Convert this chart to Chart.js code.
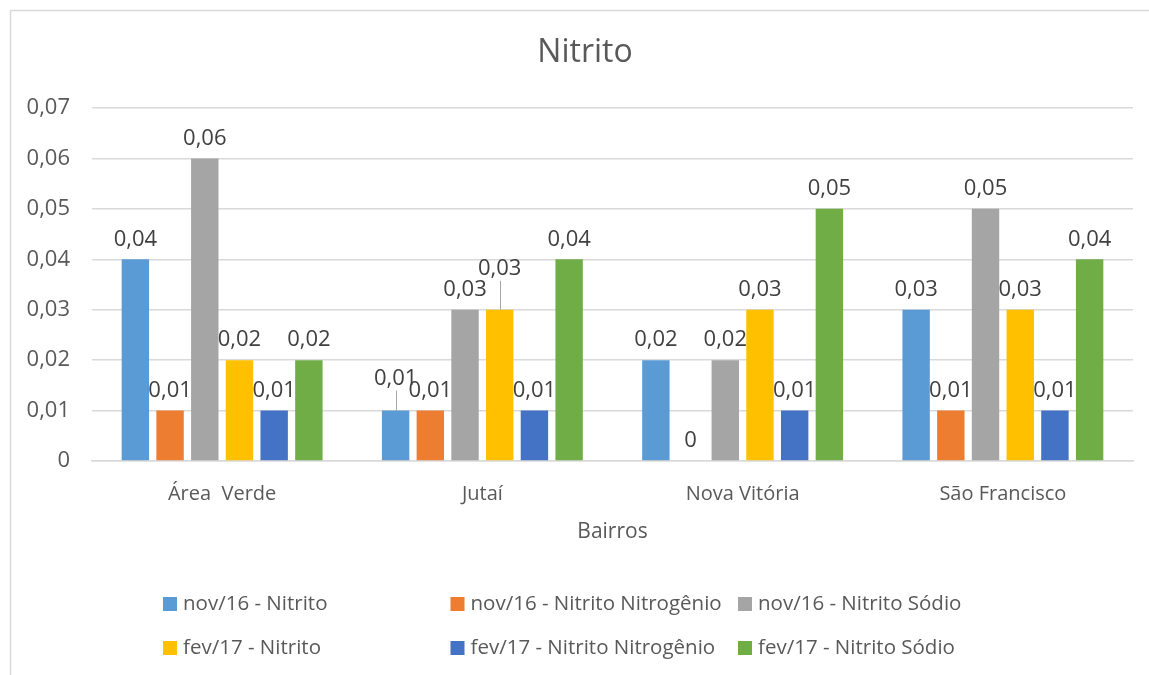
<!DOCTYPE html>
<html>
<head>
<meta charset="utf-8">
<title>Nitrito</title>
<script src="https://cdn.jsdelivr.net/npm/chart.js@4.4.1/dist/chart.umd.min.js"></script>
<style>
    html, body { margin: 0; padding: 0; background: #fff; }
    #wrap { width: 1149px; height: 675px; }
</style>
</head>
<body>
<div id="wrap"><canvas id="nitritoChart"></canvas></div>
<script>
// Chart data
const bairros = ['Área  Verde', 'Jutaí', 'Nova Vitória', 'São Francisco'];
const yTicks = [0, 0.01, 0.02, 0.03, 0.04, 0.05, 0.06, 0.07];

const nov16Nitrito = [0.04, 0.01, 0.02, 0.03];
const nov16NitritoNitrogenio = [0.01, 0.01, 0, 0.01];
const nov16NitritoSodio = [0.06, 0.03, 0.02, 0.05];
const fev17Nitrito = [0.02, 0.03, 0.03, 0.03];
const fev17NitritoNitrogenio = [0.01, 0.01, 0.01, 0.01];
const fev17NitritoSodio = [0.02, 0.04, 0.05, 0.04];

const FONT = '"Open Sans", "DejaVu Sans", sans-serif';

// Format numbers with decimal comma like the original
function fmt(v) {
    return v === 0 ? '0' : v.toFixed(2).replace('.', ',');
}

// A couple of labels in the original were dragged up with a leader line
const labelNudges = { '0-1': -12, '3-1': -21 };

const dataLabels = {
    id: 'dataLabels',
    afterDatasetsDraw(chart) {
        const ctx = chart.ctx;
        ctx.save();
        ctx.font = '22px ' + FONT;
        ctx.fillStyle = '#404040';
        ctx.textAlign = 'center';
        ctx.textBaseline = 'middle';
        chart.data.datasets.forEach((ds, di) => {
            const meta = chart.getDatasetMeta(di);
            meta.data.forEach((bar, i) => {
                const nudge = labelNudges[di + '-' + i] || 0;
                const ly = bar.y - 20 + nudge;
                ctx.fillText(fmt(ds.data[i]), bar.x, ly);
                if (nudge < -8) {
                    ctx.strokeStyle = '#a6a6a6';
                    ctx.lineWidth = 1;
                    ctx.beginPath();
                    ctx.moveTo(Math.round(bar.x) + 0.5, ly + 12);
                    ctx.lineTo(Math.round(bar.x) + 0.5, bar.y);
                    ctx.stroke();
                }
            });
        });
        ctx.restore();
    }
};

// Title and legend drawn by hand so they sit where Excel put them
const titleAndLegend = {
    id: 'titleAndLegend',
    afterDraw(chart) {
        const ctx = chart.ctx;
        ctx.save();
        ctx.fillStyle = '#595959';
        ctx.textAlign = 'center';
        ctx.textBaseline = 'middle';
        ctx.font = '32px ' + FONT;
        ctx.fillText('Nitrito', 585, 53);

        // legend in aligned columns
        const colW = 287.5;
        const startX = 163;
        const rows = [604, 648];
        ctx.font = '20.5px ' + FONT;
        ctx.textAlign = 'left';
        chart.data.datasets.forEach((ds, i) => {
            const x = startX + (i % 3) * colW;
            const y = rows[Math.floor(i / 3)];
            ctx.fillStyle = ds.backgroundColor;
            ctx.fillRect(x, y - 7, 14, 14);
            ctx.fillStyle = '#595959';
            ctx.fillText(ds.label, x + 20, y);
        });
        ctx.restore();
    }
};

const frame = {
    id: 'frame',
    beforeDraw(chart) {
        const ctx = chart.ctx;
        ctx.save();
        ctx.fillStyle = '#fff';
        ctx.fillRect(0, 0, chart.width, chart.height);
        ctx.strokeStyle = '#d9d9d9';
        ctx.lineWidth = 1.5;
        ctx.strokeRect(10.5, 10.5, chart.width + 20, chart.height + 20);
        ctx.restore();
    }
};

const ctx = document.getElementById('nitritoChart').getContext('2d');
new Chart(ctx, {
    type: 'bar',
    data: {
        labels: bairros,
        datasets: [
            { label: 'nov/16 - Nitrito', data: nov16Nitrito, backgroundColor: '#5b9bd5' },
            { label: 'nov/16 - Nitrito Nitrogênio', data: nov16NitritoNitrogenio, backgroundColor: '#ed7d31' },
            { label: 'nov/16 - Nitrito Sódio', data: nov16NitritoSodio, backgroundColor: '#a5a5a5' },
            { label: 'fev/17 - Nitrito', data: fev17Nitrito, backgroundColor: '#ffc000' },
            { label: 'fev/17 - Nitrito Nitrogênio', data: fev17NitritoNitrogenio, backgroundColor: '#4472c4' },
            { label: 'fev/17 - Nitrito Sódio', data: fev17NitritoSodio, backgroundColor: '#70ad47' }
        ]
    },
    options: {
        responsive: true,
        maintainAspectRatio: false,
        animation: false,
        categoryPercentage: 0.8,
        barPercentage: 0.79,
        layout: {
            padding: { left: 10, right: 16, top: 108, bottom: 126 }
        },
        plugins: {
            legend: { display: false },
            tooltip: { enabled: false },
            title: { display: false }
        },
        scales: {
            x: {
                afterFit(scale) { scale.height = 88; },
                grid: { display: false, drawTicks: false },
                border: { color: '#d9d9d9', width: 1.5 },
                ticks: {
                    color: '#595959',
                    font: { family: FONT, size: 20 },
                    padding: 21
                },
                title: {
                    display: true,
                    text: 'Bairros',
                    color: '#595959',
                    font: { family: FONT, size: 21 },
                    padding: { top: 12, bottom: 4 }
                }
            },
            y: {
                min: 0,
                max: 0.07,
                afterFit(scale) { scale.width = 82; },
                afterBuildTicks(scale) {
                    scale.ticks = yTicks.map(v => ({ value: v }));
                },
                grid: { color: '#d9d9d9', lineWidth: 1.5, drawTicks: false },
                border: { display: false },
                ticks: {
                    color: '#595959',
                    font: { family: FONT, size: 22 },
                    padding: 22,
                    callback: v => fmt(v)
                }
            }
        }
    },
    plugins: [frame, dataLabels, titleAndLegend]
});
</script>
</body>
</html>
